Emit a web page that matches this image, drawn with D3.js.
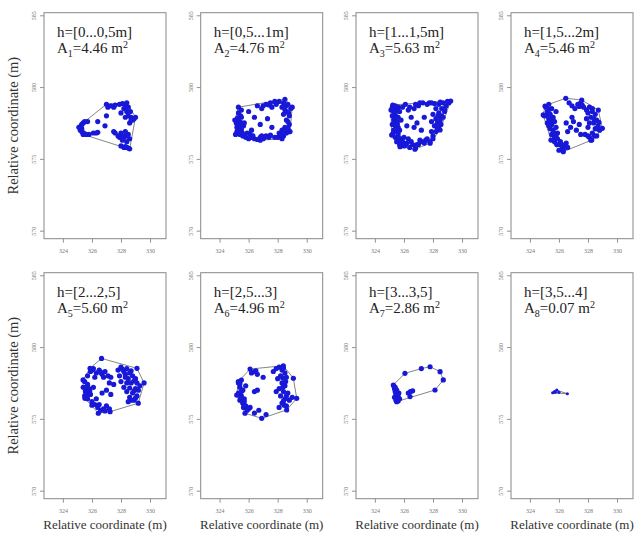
<!DOCTYPE html>
<html>
<head>
<meta charset="utf-8">
<script src="https://cdn.jsdelivr.net/npm/d3@7"></script>
<style>
	body { margin:0; background:#fff; }
</style>
</head>
<body>
<svg id="chart" width="635" height="534"></svg>
<script>

//------------------------------------------------------------------
// data
//------------------------------------------------------------------
var hLabels		= ['h=[0...0,5m]','h=[0,5...1m]','h=[1...1,5m]','h=[1,5...2m]','h=[2...2,5]','h=[2,5...3]','h=[3...3,5]','h=[3,5...4]'];
var areaIdx		= ['1','2','3','4','5','6','7','8'];
var areaVals	= ['4.46','4.76','5.63','5.46','5.60','4.96','2.86','0.07'];
var xTickVals	= [324,326,328,330];
var yTickVals	= [570,575,580,585];

var pts1 = [
	[325.1,577.2],[327.0,578.8],[328.4,578.9],[329.0,577.9],[328.6,575.7],[325.4,576.7],
	[325.2,577.2],[325.2,577.0],[325.3,577.4],[325.3,576.9],[325.4,577.5],[325.4,576.8],[325.5,577.6],[325.6,576.7],[325.7,577.6],[325.8,576.7],[325.3,577.1],[325.5,576.75],[325.25,577.3],[325.35,576.85],
	[326.1,576.8],[326.3,576.8],[326.4,576.85],
	[326.4,577.6],[326.9,577.3],[327.0,578.0],
	[327.1,578.6],[327.3,578.7],[327.5,578.6],[327.6,578.75],
	[327.9,578.8],[328.1,578.85],[328.3,578.8],[328.2,578.5],[328.4,578.3],[328.0,578.2],[328.5,578.0],[328.7,577.9],[328.8,577.7],[328.6,577.5],[328.9,577.8],[328.3,577.9],[328.5,578.6],[328.65,578.3],[328.4,578.6],[328.7,577.7],
	[327.5,576.9],[327.6,576.8],[327.9,576.5],[328.0,576.8],[328.2,576.5],[328.3,576.9],[328.5,576.7],[328.6,576.4],[328.4,576.2],[328.1,576.3],[327.8,576.6],[328.35,576.6],[328.1,576.6],
	[328.0,575.9],[328.2,575.8],[328.4,575.8],[328.5,575.75],[328.3,575.85]
];
var pts2 = [
	[325.3,578.6],[328.5,579.15],[329.0,578.6],[328.85,576.9],[328.3,576.4],[326.8,576.3],[325.1,576.7],[325.05,577.7],
	[325.15,577.5],[325.2,577.2],[325.2,576.9],[325.3,577.7],[325.35,577.0],[325.4,576.7],[325.4,577.4],[325.5,577.9],[325.5,577.1],[325.6,576.6],[325.7,577.5],[325.3,578.2],[325.5,578.4],
	[325.25,577.85],[325.45,577.55],[325.35,576.8],[325.55,576.85],[325.65,577.3],[325.45,578.0],
	[325.8,576.5],[326.0,576.4],[326.2,576.5],[326.4,576.4],[326.6,576.35],[326.8,576.5],[327.0,576.4],[327.2,576.6],[327.4,576.5],[326.1,576.7],[325.9,576.8],
	[325.7,576.65],[326.3,576.6],[326.9,576.6],[327.1,576.5],[327.5,576.65],
	[327.8,576.5],[328.0,576.5],[328.2,576.5],[328.4,576.6],[328.6,576.8],[328.7,577.1],[328.8,577.4],[328.6,577.7],[328.8,578.0],[328.6,578.3],[328.9,578.5],[328.7,578.8],[328.4,578.9],[328.5,577.2],[328.3,577.0],[328.1,576.8],[328.4,578.1],[328.3,578.6],
	[328.7,577.6],[328.75,578.2],[328.5,578.4],[328.8,576.9],[328.55,577.0],[328.3,576.7],[328.6,578.7],
	[326.6,578.7],[326.9,578.5],[327.2,578.8],[327.5,578.9],[327.8,579.0],[328.1,579.0],[327.6,578.6],[327.0,578.7],[327.4,578.75],[327.9,578.8],
	[326.0,578.3],[326.4,577.9],[326.8,577.4],[327.3,577.8],[327.6,577.2],[326.2,577.0]
];
var pts3 = [
	[325.23,578.75],[329.22,579.03],[328.49,577.01],[327.8,576.09],[326.76,575.67],[325.73,575.85],[325.16,576.66],[325.11,578.4],
	[325.2,578.6],[325.4,578.7],[325.6,578.6],[325.3,578.3],[325.5,578.4],[325.7,578.3],[325.2,578.0],[325.4,578.1],[325.6,577.9],[325.3,577.7],[325.5,577.6],[325.8,577.7],[325.2,577.4],[325.4,577.3],[325.6,577.2],[325.3,577.0],[325.5,576.9],[325.7,577.0],[325.2,576.7],[325.4,576.5],[325.6,576.6],[325.8,576.4],[325.5,576.2],[325.7,576.0],[325.9,576.2],
	[325.3,578.5],[325.45,577.85],[325.35,577.5],[325.55,577.45],[325.3,576.85],[325.6,576.8],[325.65,576.4],[325.75,576.2],
	[326.0,575.9],[326.2,576.1],[326.4,575.8],[326.6,576.0],[326.8,575.75],[327.0,576.0],[327.2,576.2],[327.4,576.1],[326.3,576.4],[326.0,576.5],
	[326.1,575.95],[326.5,576.2],[326.9,576.0],[327.1,576.3],[327.5,576.3],
	[327.6,576.4],[327.8,576.2],[328.0,576.6],[328.2,576.9],[328.4,577.1],[327.9,576.9],[328.1,577.3],[328.3,577.5],[328.5,577.7],[328.2,577.8],[328.6,578.0],[328.4,578.2],[328.8,578.3],[328.6,578.5],[328.9,578.7],[329.1,578.9],[328.7,578.9],[328.4,578.8],[328.2,578.5],[328.0,578.1],[327.9,577.6],
	[328.0,576.4],[328.3,577.2],[328.55,577.4],[328.7,577.9],[328.35,578.0],[328.8,578.5],[329.0,579.0],[328.5,578.95],[328.1,578.85],[327.75,578.9],
	[327.9,578.9],[327.6,578.8],[327.3,578.9],[327.0,578.7],[326.7,578.5],[326.4,578.6],[326.1,578.8],[325.9,578.6],[327.1,578.9],[326.8,578.8],[326.3,578.4],
	[326.5,577.9],[326.9,577.5],[327.2,577.0],[326.7,577.2],[327.4,577.9],[326.2,577.3]
];
var pts4 = [
	[326.47,579.22],[325.04,578.68],[324.92,578.06],[325.45,576.31],[326.3,575.5],[328.26,576.31],[328.99,577.13],[328.71,578.4],[327.57,579.1],
	[325.1,578.6],[325.3,578.8],[325.5,578.5],[325.2,578.3],[325.4,578.1],[325.0,578.0],[325.3,577.8],[325.6,577.9],[325.2,577.5],[325.5,577.4],[325.7,577.6],[325.4,577.1],[325.6,577.0],[325.8,577.2],[325.5,576.7],[325.7,576.5],[325.9,576.8],[325.7,576.2],[326.0,576.0],[326.2,575.7],[326.0,575.6],[326.4,575.9],[326.6,575.8],[325.9,576.4],[326.1,576.2],[325.8,578.3],
	[325.15,578.0],[325.35,577.6],[325.6,577.7],[325.3,577.3],[325.65,576.8],[325.8,576.6],[325.85,576.0],[326.2,576.0],[326.3,575.65],[326.5,576.1],[325.35,578.45],
	[326.7,578.9],[326.9,578.7],[327.1,578.5],[327.3,578.8],[327.5,578.9],[327.7,578.6],[327.9,578.4],[328.1,578.6],[328.3,578.3],[328.5,578.1],[328.2,577.9],[328.6,577.7],[328.4,577.5],[328.7,577.3],[328.8,577.0],[328.5,577.1],[328.3,576.8],[328.6,576.6],[328.1,576.5],[328.0,577.2],[328.2,576.3],[327.8,576.7],[327.9,577.8],
	[327.4,578.65],[327.6,578.75],[328.0,578.2],[328.4,577.8],[328.75,577.55],[328.6,577.1],[328.45,576.6],[328.0,576.6],[328.1,577.5],[328.3,578.5],
	[326.5,577.5],[326.8,577.2],[327.0,577.6],[327.2,577.0],[326.6,576.9],[327.4,577.4],[326.9,577.9],[327.5,576.7]
];
var pts5 = [
	[326.66,579.21],[329.1,578.52],[329.59,577.5],[329.19,576.09],[327.25,575.5],[326.44,575.39],[325.52,576.43],[325.39,577.71],[325.87,578.52],
	[325.9,578.3],[326.1,578.5],[326.3,578.2],[326.5,578.4],[326.7,578.1],[326.9,578.3],[327.1,578.0],[327.3,577.9],[326.2,577.9],[325.7,578.0],
	[326.0,578.4],[326.6,578.25],[326.8,577.9],
	[325.5,577.6],[325.7,577.4],[325.4,577.2],[325.6,576.9],[325.8,577.1],[325.5,576.6],[325.7,576.4],[325.9,576.7],[326.0,576.2],[326.2,576.0],[326.4,575.8],[326.6,575.6],[326.8,575.7],[327.0,575.9],[327.2,575.7],[326.3,576.4],[326.1,577.2],
	[325.6,577.2],[325.75,576.7],[325.55,576.9],[326.0,575.95],[326.5,576.0],[326.9,575.55],[325.85,576.95],
	[327.8,578.4],[328.0,578.6],[328.2,578.3],[328.4,578.5],[328.6,578.2],[328.8,578.0],[329.0,577.8],[328.5,577.8],[328.3,577.9],[328.7,577.5],[329.1,577.5],[329.3,577.3],[329.0,577.1],[328.8,576.8],[329.1,576.6],[328.9,576.3],[328.6,576.5],[328.4,576.9],[328.2,577.2],[328.0,577.6],[327.9,578.0],[328.5,576.2],
	[328.1,578.45],[328.3,578.1],[328.9,577.65],[329.2,577.0],[328.9,576.95],[329.0,576.45],[328.7,576.3],[328.6,577.15],[328.4,577.5],[328.7,578.35],
	[327.0,577.0],[327.3,576.7],[326.7,576.8],[327.5,577.4],[327.2,577.5]
];
var pts6 = [
	[326.1,578.47],[328.39,578.7],[329.08,577.83],[329.31,576.43],[328.62,575.62],[326.9,575.04],[325.75,575.39],[325.18,576.66],[325.29,577.59],
	[325.3,577.5],[325.5,577.7],[325.4,577.2],[325.6,577.0],[325.3,576.8],[325.5,576.6],[325.7,576.4],[325.4,576.3],[325.6,576.1],[325.8,575.9],[325.9,575.6],[326.1,575.8],[325.8,577.3],
	[325.4,577.45],[325.5,576.9],[325.45,576.45],[325.7,576.2],[325.65,575.8],[326.0,575.7],
	[326.2,578.2],[326.4,578.3],[326.6,578.1],[326.5,578.35],
	[326.4,576.9],[326.6,577.0],[327.0,577.9],
	[326.4,575.4],[326.7,575.6],[327.2,575.3],
	[327.7,578.3],[327.9,578.5],[328.1,578.6],[328.3,578.4],[328.5,578.2],[328.2,578.0],[328.6,577.9],[328.0,577.8],
	[328.3,577.5],[328.5,577.3],[328.1,577.1],[328.4,576.9],[328.7,576.8],[328.2,576.6],[328.5,576.4],[328.8,576.3],[328.3,576.1],[328.6,575.9],[328.1,575.8],[327.9,576.9],[329.0,576.5],
	[328.4,578.55],[328.35,577.85],[328.55,577.6],[328.35,577.2],[328.6,576.6],[328.4,576.25],[328.45,575.95]
];
var pts7 = [
	[325.27,577.36],[326.07,578.17],[327.8,578.63],[328.49,578.29],[328.71,577.71],[328.14,577.01],[326.42,576.55],[325.5,576.2],
	[325.3,577.3],[325.35,577.1],[325.4,576.9],[325.45,576.7],[325.5,576.5],[325.55,576.3],[325.6,576.6],[325.7,576.4],[325.65,576.8],[325.5,577.0],
	[325.35,576.5],[325.45,576.3],[325.6,576.25],[325.4,577.2],
	[326.3,576.8],[326.45,576.9],[326.6,576.95],
	[327.2,578.5]
];
var pts8 = [
	[325.57,576.82],[325.7,576.9],[325.85,577.0],[326.0,576.85],[326.58,576.75],[325.75,576.85]
];
var panelPts = [pts1,pts2,pts3,pts4,pts5,pts6,pts7,pts8];


//------------------------------------------------------------------
// layout
//------------------------------------------------------------------
var colLeft	= [44, 200.7, 356, 511],
		rowTop	= [12.7, 272.7],
		pw			= 122,
		ph			= 226,
		serif		= '"Liberation Serif","DejaVu Serif","Times New Roman",serif';

var x = d3.scaleLinear().domain([322.7,331.1]).range([0,pw]),
		y = d3.scaleLinear().domain([569.44,585.18]).range([ph,0]);

var svg = d3.select('#chart');
svg.append('rect').attr('width',635).attr('height',534).attr('fill','#fff');


//------------------------------------------------------------------
//
//------------------------------------------------------------------
function drawPanel(i)	{

	var col = i % 4,
			row = Math.floor(i/4),
			pts = panelPts[i],
			hull = d3.polygonHull(pts),
			r = pts.length < 10 ? 1.6 : 2.6;

	var g = svg.append('g')
		.attr('class','panel panel-'+(i+1))
		.attr('font-family',serif)
		.attr('transform','translate('+colLeft[col]+','+rowTop[row]+')');

	// axes
	g.append('g')
		.attr('class','axis-y')
		.call(d3.axisLeft(y).tickValues(yTickVals).tickSize(4).tickFormat(d3.format('d')))
		.attr('font-family',serif)
		.call(sel=>{
			sel.select('.domain').remove();
			sel.selectAll('line').attr('stroke','#777').attr('stroke-width',0.8);
			sel.selectAll('text')
				.attr('x',0).attr('y',0).attr('dy',0)
				.attr('transform','translate(-8,0) rotate(-90)')
				.attr('text-anchor','middle')
				.attr('fill','#777')
				.style('font-size','6px');
		});

	g.append('g')
		.attr('class','axis-x')
		.attr('transform','translate(0,'+ph+')')
		.call(d3.axisBottom(x).tickValues(xTickVals).tickSize(4).tickFormat(d3.format('d')))
		.attr('font-family',serif)
		.call(sel=>{
			sel.select('.domain').remove();
			sel.selectAll('line').attr('stroke','#777').attr('stroke-width',0.8);
			sel.selectAll('text')
				.attr('y',10)
				.attr('fill','#777')
				.style('font-size','6px');
		});

	// frame
	g.append('rect')
		.attr('width',pw).attr('height',ph)
		.attr('fill','none')
		.attr('stroke','#888')
		.attr('stroke-width',1);

	// hull
	g.append('path')
		.datum(hull)
		.attr('d',d=>'M'+d.map(p=>x(p[0])+','+y(p[1])).join('L')+'Z')
		.attr('fill','none')
		.attr('stroke','#666')
		.attr('stroke-width',0.8);

	// points
	g.selectAll('.pt').data(pts)
		.enter()
			.append('circle')
				.attr('class','pt')
				.attr('cx',d=>x(d[0]))
				.attr('cy',d=>y(d[1]))
				.attr('r',r)
				.attr('fill','#1818d8');

	// labels
	g.append('text')
		.attr('x',13).attr('y',24)
		.attr('fill','#222')
		.style('font-family',serif)
		.style('font-size','15px')
		.text(hLabels[i]);

	g.append('text')
		.attr('x',13).attr('y',40)
		.attr('fill','#222')
		.style('font-family',serif)
		.style('font-size','15px')
		.call(t=>{
			t.append('tspan').text('A');
			t.append('tspan').attr('dy',4).style('font-size','10px').text(areaIdx[i]);
			t.append('tspan').attr('dy',-4).text('='+areaVals[i]+' m');
			t.append('tspan').attr('dy',-5).style('font-size','10px').text('2');
		});

	// titles
	if (col==0)	{
		g.append('text')
			.attr('transform','translate(-26,'+(ph/2)+') rotate(-90)')
			.attr('text-anchor','middle')
			.attr('fill','#333')
			.style('font-family',serif)
			.style('font-size','14.5px')
			.text('Relative coordinate (m)');
	}
	if (row==1)	{
		g.append('text')
			.attr('x',pw/2).attr('y',ph+30)
			.attr('text-anchor','middle')
			.attr('fill','#333')
			.style('font-family',serif)
			.style('font-size','13px')
			.text('Relative coordinate (m)');
	}

}

d3.range(8).forEach(drawPanel);

</script>
</body>
</html>
